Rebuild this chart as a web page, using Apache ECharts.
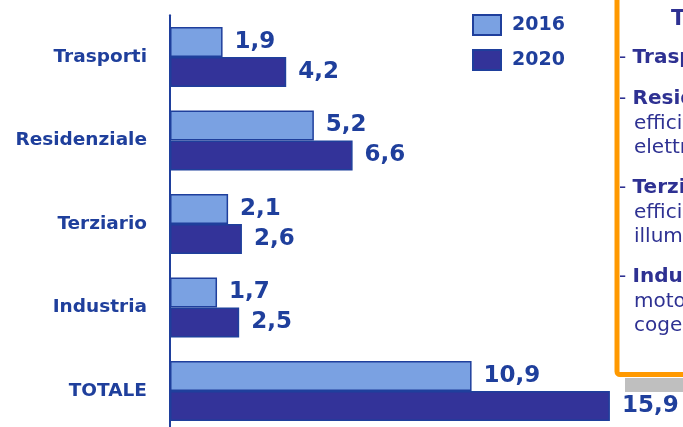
<!DOCTYPE html>
<html>
<head>
<meta charset="utf-8">
<script src="https://cdn.jsdelivr.net/npm/echarts@6/dist/echarts.min.js"></script>
<style>
  html, body { margin: 0; padding: 0; background: #ffffff; }
  #chart { width: 683px; height: 427px; }
</style>
</head>
<body>
<div id="chart"></div>
<script>
// Risparmi energetici per settore (Mtep)
const categories = ['Trasporti', 'Residenziale', 'Terziario', 'Industria', 'TOTALE'];
const seriesNames = ['2016', '2020'];
const values2016 = [1.9, 5.2, 2.1, 1.7, 10.9];
const values2020 = [4.2, 6.6, 2.6, 2.5, 15.9];

const BLUE = '#1f3f9c';
const NAVY = '#2e3192';
const FONT = '"DejaVu Sans", Verdana, sans-serif';

// Riquadro descrittivo sul lato destro
const noteLines = [
  { text: '{t|Tecnologie principali}', x: 671, base: 27 },
  { text: '{d|- }{b|Trasporti:} veicoli efficienti', x: 619, base: 65 },
  { text: '{d|- }{b|Residenziale:} pompe di calore,', x: 619, base: 106 },
  { text: 'efficienza involucro,', x: 634, base: 131 },
  { text: 'elettrodomestici', x: 634, base: 155 },
  { text: '{d|- }{b|Terziario:} edifici,', x: 619, base: 195 },
  { text: 'efficienza impianti,', x: 634, base: 220 },
  { text: 'illuminazione', x: 634, base: 244 },
  { text: '{d|- }{b|Industria:} inverter,', x: 619, base: 284 },
  { text: 'motori elettrici,', x: 634, base: 309 },
  { text: 'cogenerazione', x: 634, base: 333 }
];

const fmt = p => String(p.value).replace('.', ',');

const chart = echarts.init(document.getElementById('chart'), null, { renderer: 'canvas' });

const barLabel = {
  show: true,
  position: 'right',
  distance: 12,
  formatter: fmt,
  color: BLUE,
  fontFamily: FONT,
  fontWeight: 'bold',
  fontSize: 23
};

const graphics = [
  {
    type: 'rect',
    z: 10,
    shape: { x: 625, y: 378, width: 80, height: 14 },
    style: { fill: '#bfbfbf' }
  },
  {
    type: 'rect',
    z: 11,
    shape: { x: 617, y: -10, width: 120, height: 384.5, r: [0, 0, 0, 3] },
    style: { fill: '#ffffff', stroke: '#ff9900', lineWidth: 5 }
  }
];
noteLines.forEach(l => {
  graphics.push({
    type: 'text',
    z: 12,
    x: l.x,
    y: l.base - 7,
    style: {
      text: l.text,
      fill: NAVY,
      font: '20px ' + FONT,
      verticalAlign: 'middle',
      align: 'left',
      rich: {
        t: { fontWeight: 'bold', fontSize: 21, fontFamily: FONT, fill: NAVY, color: NAVY },
        b: { fontWeight: 'bold', fontSize: 20, fontFamily: FONT, fill: NAVY, color: NAVY },
        d: { fontSize: 20, fontFamily: FONT, fill: NAVY, color: NAVY }
      }
    }
  });
});

chart.setOption({
  animation: false,
  backgroundColor: '#ffffff',
  textStyle: { fontFamily: FONT },
  grid: {
    left: 170, width: 498, top: 15.25, height: 417.5,
    containLabel: false, outerBoundsMode: 'none'
  },
  legend: {
    data: seriesNames,
    orient: 'vertical',
    left: 467,
    top: 9,
    itemWidth: 28,
    itemHeight: 20,
    itemGap: 13,
    icon: 'rect',
    textStyle: { color: BLUE, fontFamily: FONT, fontWeight: 'bold', fontSize: 19, padding: [0, 0, 0, 6] }
  },
  xAxis: {
    type: 'value',
    min: 0,
    max: 18,
    show: false,
    splitLine: { show: false }
  },
  yAxis: {
    type: 'category',
    data: categories,
    inverse: true,
    axisLine: { show: true, lineStyle: { color: BLUE, width: 2 } },
    axisTick: { show: false },
    axisLabel: {
      margin: 23,
      color: BLUE,
      fontFamily: FONT,
      fontWeight: 'bold',
      fontSize: 18.5
    }
  },
  series: [
    {
      name: seriesNames[0],
      type: 'bar',
      data: values2016,
      barGap: '0%',
      barCategoryGap: '28%',
      itemStyle: { color: '#7aa1e2', borderColor: BLUE, borderWidth: 1.5 },
      label: barLabel
    },
    {
      name: seriesNames[1],
      type: 'bar',
      data: values2020,
      barGap: '0%',
      barCategoryGap: '28%',
      itemStyle: { color: '#333399', borderColor: BLUE, borderWidth: 1.5 },
      label: barLabel
    }
  ],
  graphic: graphics
});
</script>
</body>
</html>
